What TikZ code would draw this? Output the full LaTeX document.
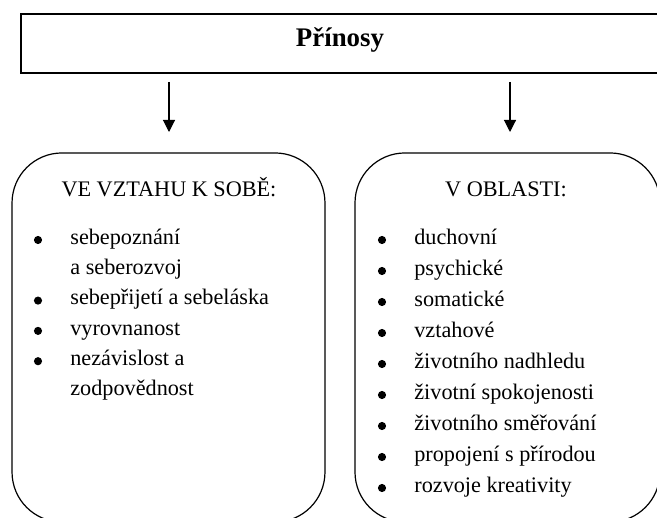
\documentclass[tikz,border=0pt]{standalone}
\usepackage{fontspec}
\setmainfont{Liberation Serif}
\usetikzlibrary{arrows.meta}
\begin{document}
\begin{tikzpicture}[x=0.54pt,y=-0.54pt,
  font=\fontsize{12}{14}\selectfont,
  topbox/.style={draw, line width=1.35pt, minimum width=346.1pt, minimum height=31.9pt, inner sep=0pt},
  roundbox/.style={draw, line width=0.65pt, rounded corners=27pt, minimum height=199.3pt, inner sep=0pt},
  head/.style={anchor=base, inner sep=0pt},
  item/.style={anchor=mid west, inner sep=0pt},
  arr/.style={line width=0.6pt, -{Triangle[length=6.5pt,width=6.5pt]}},
  bul/.style={fill=black}
]
\clip (0,0) rectangle (657,518);
\node[topbox] (top) at (341.5,43.5) {};
\node[head, font=\fontsize{14.5}{16}\selectfont\bfseries] (title) at (340,47) {Přínosy};

\node[roundbox, minimum width=169pt] (lbox) at (168.5,337.5) {};
\node[roundbox, minimum width=164.7pt] (rbox) at (507.5,337.5) {};

\coordinate (la) at (169,82);
\coordinate (lb) at (169,132);
\coordinate (ra) at (510,82);
\coordinate (rb) at (510,132);
\draw[arr] (la) -- (lb);
\draw[arr] (ra) -- (rb);

\node[head] (lhead) at (169,197) {VE VZTAHU K SOBĚ:};
\node[head] (rhead) at (506,197) {V OBLASTI:};

% left list
\foreach \y/\t/\b [count=\i] in {240/sebepoznání/1, 270.3/a seberozvoj/0, 300.6/sebepřijetí a sebeláska/1, 330.9/vyrovnanost/1, 361.2/nezávislost a/1, 391.5/zodpovědnost/0}{
  \node[item] (l\i) at (70,\y) {\t};
  \ifnum\b=1 \fill[bul] (38,\y) circle[radius=2.2pt]; \fi
}
% right list
\foreach \y/\t [count=\i] in {240/duchovní, 271/psychické, 302/somatické, 333/vztahové, 364/životního nadhledu, 395/životní spokojenosti, 426/životního směřování, 457/propojení s přírodou, 488/rozvoje kreativity}{
  \node[item] (r\i) at (414,\y) {\t};
  \fill[bul] (382,\y) circle[radius=2.2pt];
}
\end{tikzpicture}
\end{document}
